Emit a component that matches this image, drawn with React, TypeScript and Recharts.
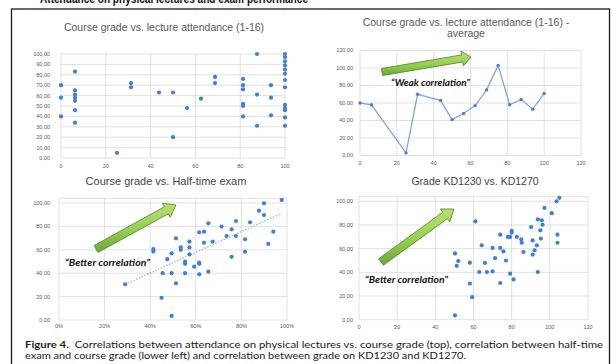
import React from 'react';
import { ScatterChart, Scatter, LineChart, Line, XAxis, YAxis, CartesianGrid, ReferenceLine } from 'recharts';

const W = 616;
const H = 364;

// ---------- data ----------
// Top-left: course grade vs. lecture attendance (1-16), attendance in %
const tlAttendance = [
  0, 0, 0,
  6.25, 6.25, 6.25, 6.25, 6.25, 6.25, 6.25,
  25,
  31.25, 31.25,
  43.75,
  50, 50,
  56.25,
  62.5,
  68.75, 68.75,
  81.25, 81.25, 81.25, 81.25, 81.25, 81.25,
  87.5, 87.5, 87.5,
  93.75, 93.75, 93.75,
  100, 100, 100, 100, 100, 100, 100, 100, 100, 100, 100, 100, 100,
];
const tlGrade = [
  70, 58, 40,
  83, 65, 61, 58, 55, 46, 34,
  5,
  72, 68,
  63,
  63, 20,
  48,
  57,
  78, 72,
  76, 70, 66, 52, 50, 40,
  100, 61, 31,
  70, 58, 41,
  100, 97, 93, 89, 85, 81, 75, 68, 51, 48, 46, 39, 31,
];

// Top-right: average course grade per attendance level
const trAttendance = [0, 6.25, 25, 31.25, 43.75, 50, 56.25, 62.5, 68.75, 75, 81.25, 87.5, 93.75, 100];
const trAverage = [60, 58, 3, 70, 63, 41, 48, 57, 75, 103, 58, 64, 53, 71];

// Bottom-left: course grade vs. half-time exam (%)
const blHalfTime = [
  29, 41.4, 41.4, 45, 45.5, 47.5, 49.4, 49.4, 49.4, 51.3, 51.3, 53.4, 53.4, 55.3, 55.3, 55.3,
  57.2, 57.2, 57.2, 59.3, 61.5, 61.5, 61.5, 61.5, 63.6, 63.6, 65.5, 65.5, 67.4, 71.3, 73.5,
  75.7, 75.7, 77.6, 77.6, 81.6, 81.6, 83.8, 87.7, 89.9, 89.9, 91.8, 94, 97.7,
];
const blGrade = [
  30.5, 60.5, 58.5, 19, 40, 52, 57, 40, 3.5, 69.8, 31.3, 62, 60, 50, 48, 40,
  67, 62, 56, 45.6, 75, 49, 48, 39, 75.5, 66, 82.6, 41.3, 67, 79.8, 71.8,
  77.5, 54, 84.6, 71.8, 69, 58.4, 83.5, 93.4, 99.7, 89.7, 65, 75.5, 102.6,
];
const blTrendHalfTime = [29, 97.5];
const blTrendGrade = [30.5, 91];

// Bottom-right: grade KD1230 vs. KD1270
const brKD1230 = [
  50.3, 50.3, 51.2, 52, 58.1, 58.1, 59.3, 61, 63, 64.3, 66, 67, 70, 70, 71.3, 74, 74, 74,
  75.7, 77, 78, 79.2, 79.2, 80, 80, 81, 82.7, 85, 85.3, 86.2, 90.2, 91, 91, 92, 93.2,
  93.7, 93.7, 95, 95.3, 95.8, 96.2, 97.2, 101, 103.5, 105, 104, 104,
];
const brKD1270 = [
  3.7, 56, 45.5, 49.6, 48.2, 30.5, 19, 83, 40.3, 62.8, 48, 40.3, 60.6, 40.8, 52, 71.8, 60.6, 31,
  57.7, 50, 69.9, 69.9, 38.9, 75, 73.5, 34, 69.9, 67.9, 65, 57.2, 78.3, 67, 55, 58.6, 62.8,
  84.8, 40.3, 75.5, 68.5, 84, 80.3, 94.4, 90, 100, 103, 71.8, 65,
];

// tick values
const xTicks100 = [0, 20, 40, 60, 80, 100];
const xTicks120 = [0, 20, 40, 60, 80, 100, 120];
const yTicksBy10 = [0, 10, 20, 30, 40, 50, 60, 70, 80, 90, 100];
const yTicksTo100 = [0, 20, 40, 60, 80, 100];
const yTicksTo120 = [0, 20, 40, 60, 80, 100, 120];

const zip = (xs: number[], ys: number[]) => xs.map((x, i) => ({ x, y: ys[i] }));
const tlData = zip(tlAttendance, tlGrade);
const trData = zip(trAttendance, trAverage);
const blData = zip(blHalfTime, blGrade);
const brData = zip(brKD1230, brKD1270);
const blTrend = zip(blTrendHalfTime, blTrendGrade);

// ---------- styles ----------
const GRID = '#d9d9d9';
const DOT = '#3f7fd6';
const FONT = '"Liberation Sans", Arial, sans-serif';
const tick = { fontSize: 5.5, fill: '#595959', fontFamily: FONT };
const fmtY = (v: number) => v.toFixed(2).replace('.', ',');
const fmtPct = (v: number) => `${v}%`;

const Dot = (props: any) => {
  const { cx, cy } = props;
  if (cx == null || cy == null) return <g />;
  return <circle cx={cx} cy={cy} r={2.1} fill={DOT} />;
};

const layer: React.CSSProperties = { position: 'absolute', left: 0, top: 0 };

function arrow(tx: number, ty: number, px: number, py: number, w = 3.8, h = 8, L = 10) {
  const dx = px - tx;
  const dy = py - ty;
  const len = Math.hypot(dx, dy);
  const ux = dx / len;
  const uy = dy / len;
  const nx = -uy;
  const ny = ux;
  const bx = px - ux * L;
  const by = py - uy * L;
  const pts = [
    [tx + nx * w, ty + ny * w],
    [bx + nx * w, by + ny * w],
    [bx + nx * h, by + ny * h],
    [px, py],
    [bx - nx * h, by - ny * h],
    [bx - nx * w, by - ny * w],
    [tx - nx * w, ty - ny * w],
  ];
  return pts.map((p) => `${p[0].toFixed(1)},${p[1].toFixed(1)}`).join(' ');
}

const titleStyle = { fontFamily: FONT, fill: '#595959' } as const;
const titleStyleDark = { fontFamily: FONT, fill: '#444' } as const;
const noteStyle = { fontFamily: 'Lato, "Open Sans", sans-serif', fontWeight: 700, fontStyle: 'italic', fill: '#111' } as const;

export default function App() {
  return (
    <div style={{ position: 'absolute', left: 0, top: 0, width: W, height: H, overflow: 'hidden', background: '#fff' }}>
      {/* top-left */}
      <div style={layer}>
        <ScatterChart width={W} height={H} margin={{ top: 54, right: 331, bottom: 186, left: 31 }}>
          <CartesianGrid stroke={GRID} strokeWidth={0.8} />
          <XAxis type="number" dataKey="x" domain={[0, 100]} ticks={xTicks100} interval={0} tick={tick}
            axisLine={false} tickLine={false} tickSize={0} tickMargin={6} height={20} />
          <YAxis type="number" dataKey="y" domain={[0, 100]} ticks={yTicksBy10} interval={0} tick={tick}
            tickFormatter={fmtY} axisLine={false} tickLine={false} tickSize={0} tickMargin={11} width={30} />
          <Scatter data={tlData} shape={Dot} isAnimationActive={false} />
        </ScatterChart>
      </div>
      {/* top-right */}
      <div style={layer}>
        <LineChart width={W} height={H} data={trData} margin={{ top: 50.5, right: 35, bottom: 188.5, left: 330 }}>
          <CartesianGrid stroke={GRID} strokeWidth={0.8} />
          <XAxis type="number" dataKey="x" domain={[0, 120]} ticks={xTicks120} interval={0} tick={tick}
            axisLine={false} tickLine={false} tickSize={0} tickMargin={6} height={20} />
          <YAxis type="number" domain={[0, 120]} ticks={yTicksTo120} interval={0} tick={tick}
            tickFormatter={fmtY} axisLine={false} tickLine={false} tickSize={0} tickMargin={7} width={30} />
          <Line dataKey="y" stroke="#7fa7dc" strokeWidth={1.3}
            dot={{ r: 1.7, fill: '#4a7fcf', stroke: 'none' }} isAnimationActive={false} />
        </LineChart>
      </div>
      {/* bottom-left */}
      <div style={layer}>
        <ScatterChart width={W} height={H} margin={{ top: 198.3, right: 329, bottom: 24, left: 29 }}>
          <CartesianGrid stroke={GRID} strokeWidth={0.8} />
          <XAxis type="number" dataKey="x" domain={[0, 100]} ticks={xTicks100} interval={0} tick={tick}
            tickFormatter={fmtPct} axisLine={false} tickLine={false} tickSize={0} tickMargin={4.5} height={20} />
          <YAxis type="number" dataKey="y" domain={[0, 104]} ticks={yTicksTo100} interval={0} tick={tick}
            tickFormatter={fmtY} axisLine={false} tickLine={false} tickSize={0} tickMargin={9} width={30} />
          <ReferenceLine segment={[blTrend[0], blTrend[1]]} stroke="#8fb5e0" strokeWidth={1.2} strokeDasharray="1.5 1.5" />
          <Scatter data={blData} shape={Dot} isAnimationActive={false} />
        </ScatterChart>
      </div>
      {/* bottom-right */}
      <div style={layer}>
        <ScatterChart width={W} height={H} margin={{ top: 196.6, right: 28, bottom: 24.3, left: 329 }}>
          <CartesianGrid stroke={GRID} strokeWidth={0.8} />
          <XAxis type="number" dataKey="x" domain={[0, 120]} ticks={xTicks120} interval={0} tick={tick}
            axisLine={false} tickLine={false} tickSize={0} tickMargin={5} height={20} />
          <YAxis type="number" dataKey="y" domain={[0, 104]} ticks={yTicksTo100} interval={0} tick={tick}
            tickFormatter={fmtY} axisLine={false} tickLine={false} tickSize={0} tickMargin={6} width={30} />
          <Scatter data={brData} shape={Dot} isAnimationActive={false} />
        </ScatterChart>
      </div>

      {/* overlay: frame, titles, annotations, caption */}
      <svg width={W} height={H} style={{ ...layer, pointerEvents: 'none' }}>
        <defs>
          <linearGradient id="arrowFill" x1="0" y1="0" x2="0" y2="1">
            <stop offset="0" stopColor="#b7e26f" />
            <stop offset="0.55" stopColor="#92d050" />
            <stop offset="1" stopColor="#6fa836" />
          </linearGradient>
        </defs>
        <text x={40} y={3} fontSize={13} fontWeight="bold" fontFamily={FONT} fill="#111"
          textLength={268} lengthAdjust="spacingAndGlyphs">Attendance on physical lectures and exam performance</text>
        <rect x={11.5} y={9} width={598} height={400} fill="none" stroke="#1a1a1a" strokeWidth={1.3} />

        <text x={164} y={30.5} fontSize={10.5} textAnchor="middle" {...titleStyle}>Course grade vs. lecture attendance (1-16)</text>
        <text x={466} y={25.5} fontSize={10.5} textAnchor="middle" {...titleStyle}>Course grade vs. lecture attendance (1-16) -</text>
        <text x={466} y={37} fontSize={10.5} textAnchor="middle" {...titleStyle}>average</text>
        <text x={166} y={185} fontSize={11} textAnchor="middle" {...titleStyleDark}>Course grade vs. Half-time exam</text>
        <text x={475} y={184.5} fontSize={10.5} textAnchor="middle" {...titleStyleDark}>Grade KD1230 vs. KD1270</text>

        <polygon points={arrow(382, 72, 471, 57, 3.6, 7.5, 9)} fill="url(#arrowFill)" stroke="#5b7a34" strokeWidth={0.8} />
        <polygon points={arrow(96, 249, 176, 205, 4, 8, 11)} fill="url(#arrowFill)" stroke="#5b7a34" strokeWidth={0.8} />
        <polygon points={arrow(381, 262, 454, 209, 4, 8, 11)} fill="url(#arrowFill)" stroke="#5b7a34" strokeWidth={0.8} />

        <text x={391} y={86} fontSize={9} {...noteStyle} textLength={79} lengthAdjust="spacingAndGlyphs">“Weak correlation”</text>
        <text x={65} y={266} fontSize={9} {...noteStyle} textLength={85} lengthAdjust="spacingAndGlyphs">“Better correlation”</text>
        <text x={365} y={283} fontSize={9} {...noteStyle} textLength={83} lengthAdjust="spacingAndGlyphs">“Better correlation”</text>

        <text x={25} y={347.5} fontSize={10} fontFamily='Lato, "Open Sans", sans-serif' fill="#1a1a1a"
          textLength={578} lengthAdjust="spacingAndGlyphs">
          <tspan fontWeight="bold">Figure 4.</tspan>
          {'\u00A0 Correlations between attendance on physical lectures vs. course grade (top), correlation between half-time'}
        </text>
        <text x={25} y={358.5} fontSize={10} fontFamily='Lato, "Open Sans", sans-serif' fill="#1a1a1a"
          textLength={441} lengthAdjust="spacingAndGlyphs">
          exam and course grade (lower left) and correlation between grade on KD1230 and KD1270.
        </text>
      </svg>
    </div>
  );
}
